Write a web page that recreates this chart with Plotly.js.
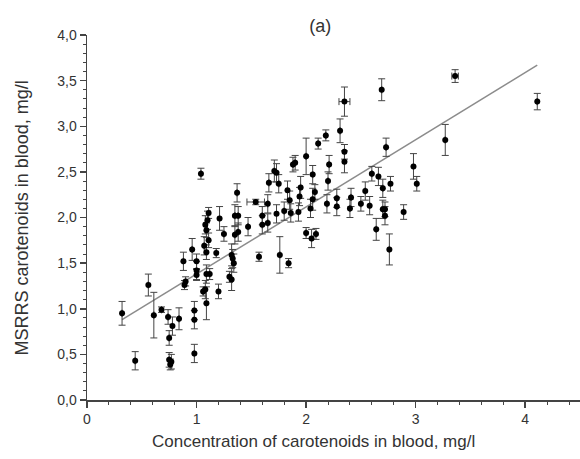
<!DOCTYPE html>
<html>
<head>
<meta charset="utf-8">
<script src="https://cdn.plot.ly/plotly-3.0.1.min.js"></script>
<style>
html,body{margin:0;padding:0;background:#fff;}
#chart{width:580px;height:459px;}
</style>
</head>
<body>
<div id="chart"></div>
<script>
// Concentration of carotenoids in blood (mg/l)
const xVals = [0.32,0.44,0.56,0.61,0.68,0.74,0.75,0.78,0.84,0.75,0.77,0.76,0.88,0.89,0.90,0.96,0.98,0.98,0.98,1.00,
  1.00,1.00,1.04,1.06,1.08,1.09,1.07,1.09,1.08,1.10,1.11,1.11,1.09,1.09,1.12,1.18,1.20,1.21,1.25,1.30,
  1.32,1.32,1.33,1.34,1.35,1.38,1.35,1.38,1.37,1.47,1.54,1.57,1.60,1.65,1.60,1.65,1.66,1.71,1.73,1.75,
  1.73,1.76,1.80,1.83,1.84,1.85,1.86,1.88,1.90,1.94,1.93,1.95,2.00,2.00,2.05,2.09,2.04,2.06,2.06,2.08,
  2.11,2.18,2.19,2.20,2.21,2.28,2.28,2.31,2.35,2.35,2.35,2.40,2.41,2.50,2.54,2.58,2.60,2.66,2.64,2.69,
  2.70,2.70,2.72,2.72,2.73,2.76,2.77,2.89,2.98,3.01,3.27,3.36,4.11];
// MSRRS carotenoids in blood (mg/l)
const yVals = [0.95,0.43,1.26,0.93,0.99,0.91,0.68,0.81,0.89,0.44,0.42,0.39,1.52,1.26,1.30,1.65,0.98,0.88,0.51,1.52,
  1.42,1.37,2.48,1.19,1.21,1.06,1.69,1.86,1.92,1.97,2.05,1.75,1.62,1.38,1.38,1.61,1.19,1.99,1.82,1.35,
  1.32,1.59,1.55,1.50,1.81,1.84,2.02,2.02,2.27,1.90,2.17,1.57,1.92,1.94,2.02,2.15,2.38,2.51,2.49,2.37,
  2.04,1.59,2.07,2.30,1.50,2.19,2.05,2.58,2.60,2.23,2.06,2.33,2.67,1.83,1.77,1.82,2.10,2.20,2.47,2.28,
  2.81,2.90,2.15,2.40,2.58,2.21,2.12,2.95,3.27,2.72,2.61,2.10,2.22,2.15,2.29,2.13,2.48,2.45,1.87,3.40,
  2.32,2.09,2.09,2.02,2.77,1.65,2.37,2.06,2.56,2.37,2.85,3.55,3.27];
// y error (±)
const yErr = [0.13,0.10,0.12,0.25,0.03,0.08,0.08,0.10,0.12,0.08,0.08,0.06,0.10,0.05,0.05,0.12,0.10,0.10,0.10,0.08,
  0.10,0.06,0.06,0.05,0.10,0.18,0.10,0.08,0.10,0.10,0.06,0.08,0.08,0.10,0.06,0.05,0.08,0.13,0.08,0.06,
  0.12,0.12,0.10,0.10,0.10,0.10,0.12,0.10,0.10,0.10,0.03,0.05,0.10,0.10,0.10,0.10,0.10,0.12,0.10,0.10,
  0.10,0.20,0.10,0.10,0.05,0.10,0.10,0.08,0.08,0.10,0.10,0.12,0.20,0.06,0.10,0.06,0.10,0.12,0.10,0.08,
  0.06,0.06,0.10,0.10,0.10,0.10,0.10,0.13,0.16,0.08,0.12,0.10,0.10,0.08,0.10,0.10,0.08,0.10,0.12,0.12,
  0.10,0.10,0.08,0.10,0.10,0.17,0.08,0.08,0.14,0.08,0.17,0.07,0.09];
// x error (±), mostly negligible
const xErr = xVals.map(function(){return 0;});
xErr[50] = 0.08; xErr[88] = 0.05; xErr[111] = 0.03;

// Linear fit
const fitSlope = 0.736;
const fitIntercept = 0.645;
const fitX = [Math.min.apply(null, xVals), Math.max.apply(null, xVals)];
const fitY = fitX.map(function(v){return fitIntercept + fitSlope * v;});

const xTitle = 'Concentration of carotenoids in blood, mg/l';
const yTitle = 'MSRRS carotenoids in blood, mg/l';

const textColor = '#333333';
const fontFam = '"Liberation Sans", Arial, sans-serif';

const traces = [
  {
    x: fitX, y: fitY, type: 'scatter', mode: 'lines',
    line: {color: '#8c8c8c', width: 1.5}, hoverinfo: 'skip'
  },
  {
    x: xVals, y: yVals, type: 'scatter', mode: 'markers',
    marker: {color: '#000', size: 6},
    error_y: {type: 'data', array: yErr, visible: true, color: '#444', thickness: 1, width: 3.5},
    error_x: {type: 'data', array: xErr, visible: true, color: '#444', thickness: 1, width: 3.5}
  }
];

const layout = {
  width: 580, height: 459,
  margin: {l: 87, r: 0, t: 35, b: 59},
  paper_bgcolor: '#fff', plot_bgcolor: '#fff',
  showlegend: false,
  separators: ', ',
  font: {family: fontFam, color: textColor, size: 14},
  title: {text: '(a)', x: 0.552, xanchor: 'center', y: 0.945, yanchor: 'middle',
          font: {family: fontFam, size: 18, color: textColor}},
  xaxis: {
    range: [0, 4.5], showgrid: false, zeroline: false,
    showline: true, linecolor: '#444', linewidth: 1.5,
    ticks: 'outside', ticklen: 6, tickcolor: '#444', tickwidth: 1.5,
    dtick: 1, tick0: 0,
    minor: {dtick: 0.2, ticks: 'outside', ticklen: 3, tickcolor: '#444', tickwidth: 1},
    tickfont: {size: 14, color: textColor}
  },
  yaxis: {
    range: [0, 4.0], showgrid: false, zeroline: false,
    showline: true, linecolor: '#444', linewidth: 1.5,
    ticks: 'outside', ticklen: 6, tickcolor: '#444', tickwidth: 1.5,
    dtick: 0.5, tick0: 0, tickformat: '.1f',
    minor: {dtick: 0.1, ticks: 'outside', ticklen: 3, tickcolor: '#444', tickwidth: 1},
    tickfont: {size: 14, color: textColor}
  },
  annotations: [
    {text: xTitle, xref: 'paper', yref: 'paper', x: 0.46, y: -0.115,
     xanchor: 'center', yanchor: 'middle', showarrow: false,
     font: {size: 17, color: textColor, family: fontFam}},
    {text: yTitle, xref: 'paper', yref: 'paper', x: -0.132, y: 0.5,
     xanchor: 'center', yanchor: 'middle', textangle: -90, showarrow: false,
     font: {size: 18, color: textColor, family: fontFam}}
  ]
};

Plotly.newPlot('chart', traces, layout, {displayModeBar: false, staticPlot: true});
</script>
</body>
</html>
